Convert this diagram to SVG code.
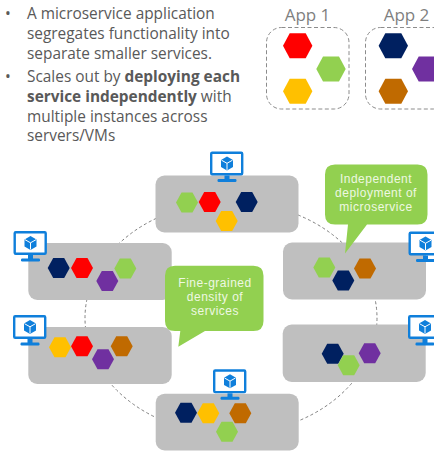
<svg xmlns="http://www.w3.org/2000/svg" width="434" height="451" viewBox="0 0 434 451">
<style>
text{font-family:"Open Sans","Noto Sans","Liberation Sans",sans-serif}
.body{font-size:15.4px;fill:#595959}
.body tspan.b{font-weight:700}
.app{font-size:17px;fill:#7f7f7f;text-anchor:middle}
.call{font-family:"Liberation Sans",Arial,sans-serif;font-size:12px;letter-spacing:.5px;fill:#eef8e2;text-anchor:middle}
.srv{fill:#bfbfbf}
.bubble{fill:#92d050}
.box{fill:none;stroke:#8c8c8c;stroke-width:1;stroke-dasharray:4 2.5}
.ring{fill:none;stroke:#7f7f7f;stroke-width:1;stroke-dasharray:3 2.5}
.red{fill:#ff0000}.grn{fill:#92d050}.yel{fill:#ffc000}.nav{fill:#002060}.pur{fill:#7030a0}.bro{fill:#c06a00}
</style>
<defs>
<polygon id="hs" points="-11,0 -5.500,-10 5.500,-10 11,0 5.500,10 -5.500,10"/>
<polygon id="hl" points="-14.700,0 -8,-12.500 8,-12.500 14.700,0 8,12.500 -8,12.500"/>
<g id="vm">
<rect x="1.200" y="1.200" width="31" height="21.600" fill="#fff" stroke="#0f7fdb" stroke-width="2.400" rx="1"/>
<rect x="14.500" y="24" width="5" height="4" fill="#0f7fdb"/>
<rect x="7.500" y="27.500" width="19" height="3" rx="1.200" fill="#0f7fdb"/>
<polygon points="17,5 23,8.400 23,15.600 17,19 11,15.600 11,8.400" fill="#0f7fdb"/>
<path d="M11.500 8.700 17 11.800 22.500 8.700M17 11.800V18.500" fill="none" stroke="#fff" stroke-width="1"/>
</g>
</defs>

<g id="connectors">
<ellipse class="ring" cx="231" cy="318" rx="146" ry="116"/>
</g>

<g id="intro">
<text class="body" x="5" y="18.500">•</text>
<text class="body" x="27" y="18.500">A microservice application</text>
<text class="body" x="27" y="38.500">segregates functionality into</text>
<text class="body" x="27" y="58.500">separate smaller services.</text>
<text class="body" x="5" y="81.500">•</text>
<text class="body" x="27" y="81.500">Scales out by <tspan class="b">deploying each</tspan></text>
<text class="body" x="27" y="101.500"><tspan class="b">service independently</tspan> with</text>
<text class="body" x="27" y="121.500">multiple instances across</text>
<text class="body" x="27" y="141">servers/VMs</text>
</g>

<g id="app1">
<text class="app" x="307.500" y="21">App 1</text>
<rect class="box" x="266.500" y="27.500" width="82.500" height="81.500" rx="15"/>
<use href="#hl" class="red" x="297.700" y="45.700"/>
<use href="#hl" class="grn" x="331" y="69"/>
<use href="#hl" class="yel" x="297.700" y="91.300"/>
</g>
<g id="app2">
<text class="app" x="406.500" y="21">App 2</text>
<rect class="box" x="365.500" y="27.500" width="82.500" height="81.500" rx="15"/>
<use href="#hl" class="nav" x="393.300" y="45.700"/>
<use href="#hl" class="pur" x="426.700" y="69"/>
<use href="#hl" class="bro" x="393.300" y="91.300"/>
</g>

<g id="server-top">
<rect class="srv" x="155.500" y="175.500" width="143" height="57" rx="9"/>
<use href="#vm" x="210" y="151.500"/>
<use href="#hs" class="grn" x="187" y="202.500"/>
<use href="#hs" class="red" x="209.700" y="202"/>
<use href="#hs" class="nav" x="246.700" y="202"/>
<use href="#hs" class="yel" x="226.700" y="221"/>
</g>
<g id="server-right-upper">
<rect class="srv" x="283" y="242.500" width="143" height="57" rx="9"/>
<use href="#vm" x="408.500" y="231.500"/>
<use href="#hs" class="grn" x="324.300" y="267.500"/>
<use href="#hs" class="bro" x="365" y="268.500"/>
<use href="#hs" class="nav" x="343.300" y="280.500"/>
</g>
<g id="server-left-upper">
<rect class="srv" x="28.300" y="243" width="143.400" height="57" rx="9"/>
<use href="#vm" x="13.500" y="231"/>
<use href="#hs" class="nav" x="58.700" y="268"/>
<use href="#hs" class="red" x="82" y="268"/>
<use href="#hs" class="grn" x="125.300" y="268.500"/>
<use href="#hs" class="pur" x="107.300" y="281"/>
</g>
<g id="server-left-lower">
<rect class="srv" x="28.300" y="327" width="143.400" height="57" rx="9"/>
<use href="#vm" x="13" y="315"/>
<use href="#hs" class="yel" x="60" y="347.300"/>
<use href="#hs" class="red" x="82" y="346.300"/>
<use href="#hs" class="bro" x="121.700" y="346.300"/>
<use href="#hs" class="pur" x="103" y="359.300"/>
</g>
<g id="server-right-lower">
<rect class="srv" x="282.700" y="324.500" width="143" height="57.500" rx="9"/>
<use href="#vm" x="408" y="315"/>
<use href="#hs" class="nav" x="332.700" y="353.700"/>
<use href="#hs" class="pur" x="369.700" y="353.300"/>
<use href="#hs" class="grn" x="348.700" y="365.300"/>
</g>
<g id="server-bottom">
<rect class="srv" x="155.700" y="393.700" width="143" height="56.800" rx="9"/>
<use href="#vm" x="213" y="369.300"/>
<use href="#hs" class="nav" x="186" y="412.700"/>
<use href="#hs" class="yel" x="208.300" y="413.300"/>
<use href="#hs" class="bro" x="240.300" y="413.300"/>
<use href="#hs" class="grn" x="227" y="431.700"/>
</g>

<g id="callout-independent">
<path class="bubble" d="M335 164.500H417.500Q427.500 164.500 427.500 174.500V214.500Q427.500 224.500 417.500 224.500H367L345 253.500L348 224.500H335Q325 224.500 325 214.500V174.500Q325 164.500 335 164.500Z"/>
<text class="call" x="376" y="183">Independent</text>
<text class="call" x="376" y="197">deployment of</text>
<text class="call" x="376" y="211">microservice</text>
</g>
<g id="callout-fine-grained">
<path class="bubble" d="M175 265.700H253.500Q263.500 265.700 263.500 275.700V321Q263.500 331 253.500 331H205L178.300 346.700L180.300 331H175Q165 331 165 321V275.700Q165 265.700 175 265.700Z"/>
<text class="call" x="215" y="286.500">Fine-grained</text>
<text class="call" x="215" y="300.500">density of</text>
<text class="call" x="215" y="314.500">services</text>
</g>
</svg>
